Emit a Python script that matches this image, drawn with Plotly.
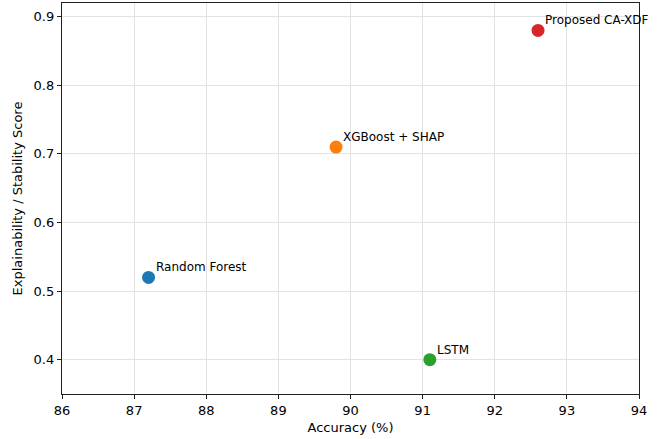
import plotly.graph_objects as go

models = ["Random Forest", "XGBoost + SHAP", "LSTM", "Proposed CA-XDF"]
accuracy = [87.2, 89.8, 91.1, 92.6]
score = [0.52, 0.71, 0.40, 0.88]
colors = ["#1f77b4", "#ff7f0e", "#2ca02c", "#d62728"]
x_ticks = [86, 87, 88, 89, 90, 91, 92, 93, 94]
y_ticks = [0.4, 0.5, 0.6, 0.7, 0.8, 0.9]

fig = go.Figure()
for m, a, s, c in zip(models, accuracy, score, colors):
    fig.add_trace(go.Scatter(x=[a], y=[s], mode="markers", name=m,
                             marker=dict(color=c, size=13, line=dict(width=0)),
                             cliponaxis=False, showlegend=False))
    fig.add_annotation(x=a, y=s, text=m, showarrow=False, xanchor="left", yanchor="bottom",
                       xshift=5, yshift=1, font=dict(size=12, color="black"))

axis_common = dict(showline=True, linecolor="#222222", linewidth=1.3, mirror=True,
                   showgrid=True, gridcolor="#e3e3e3", gridwidth=1, zeroline=False,
                   ticks="outside", ticklen=4, tickcolor="#222222", automargin=False,
                   tickfont=dict(size=13, color="black"))

fig.update_xaxes(range=[86, 94], tickvals=x_ticks,
                 title=dict(text="Accuracy (%)", font=dict(size=13, color="black"), standoff=6), **axis_common)
fig.update_yaxes(range=[0.35, 0.92], tickvals=y_ticks, tickformat=".1f",
                 title=dict(text="Explainability / Stability Score", font=dict(size=13, color="black"), standoff=8), **axis_common)

fig.update_layout(width=665, height=439, margin=dict(l=62, r=26, t=3, b=45),
                  plot_bgcolor="white", paper_bgcolor="white",
                  font=dict(family="DejaVu Sans", color="black"))

fig.write_html("out.html", config={"displayModeBar": False},
               post_script="document.body.style.margin='0px';")
